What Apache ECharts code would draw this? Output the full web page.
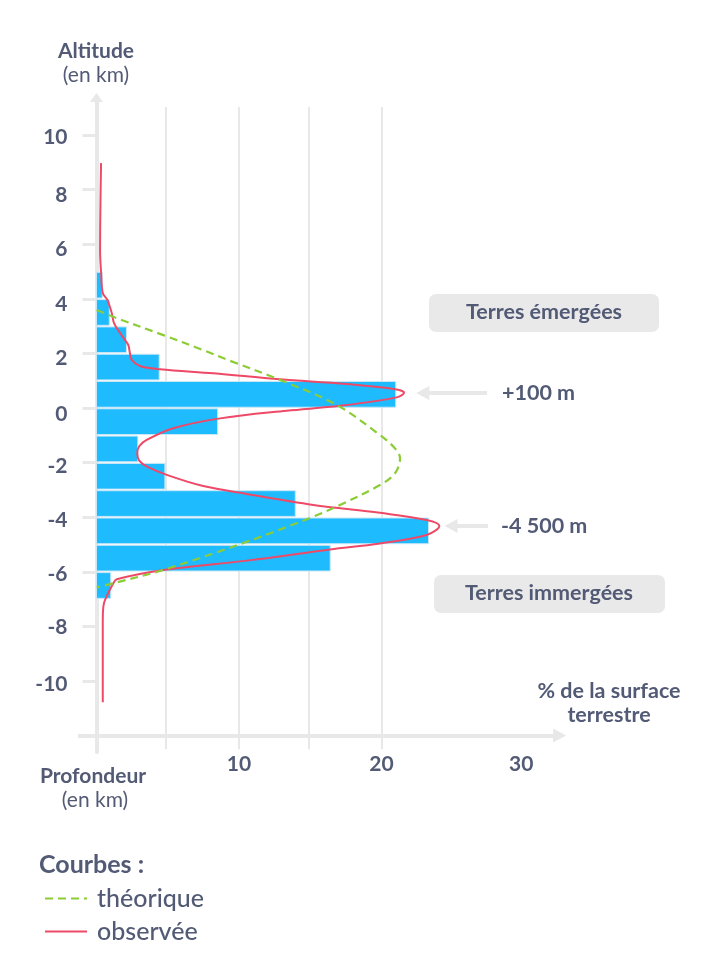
<!DOCTYPE html>
<html><head><meta charset="utf-8">
<script src="https://cdn.jsdelivr.net/npm/echarts@6/dist/echarts.min.js"></script>
<style>html,body{margin:0;padding:0;background:#fff}#c{width:709px;height:963px}</style>
</head><body><div id="c"></div>
<script>
const altitudeTicks = [-10,-8,-6,-4,-2,0,2,4,6,8,10];
const percentLabels = [10,20,29.8];
const gridPercents = [4.88,10,14.91,20];
// histogram: [percent, top km, bottom km]
const histogram = [
 [0.4,5,4],[0.9,4,3],[2.1,3,2],[4.4,2,1],[21,1,0],[8.5,0,-1],
 [2.9,-1,-2],[4.8,-2,-3],[13.95,-3,-4],[23.3,-4,-5],[16.4,-5,-6],[1.0,-6,-7]
];
const observed = [
 [.32,8.97],[.28,7.62],[.25,5.79],[.32,4.98],[.44,4.21],[.76,3.96],[1.07,3.48],[1.23,3.11],[1.65,2.75],
 [2.0,2.49],[2.23,2.31],[2.35,2.0],[2.47,1.76],[3.05,1.54],[4.46,1.42],[8.2,1.27],[12.88,1.05],[17.56,.88],
 [21.07,.68],[21.58,.56],[21.07,.39],[17.09,.08],[13.35,-.10],[8.67,-.38],[5.39,-.74],[3.52,-1.17],[3.0,-1.40],[2.86,-1.66],
 [3.0,-1.93],[3.55,-2.15],[4.93,-2.45],[7.49,-2.86],[10.54,-3.15],[15.21,-3.55],[19.89,-3.84],[23.17,-4.10],[24.06,-4.32],
 [23.17,-4.65],[19.89,-4.96],[16.39,-5.18],[10.54,-5.59],[4.69,-5.93],[1.42,-6.27],[1.18,-6.42],[.6,-7.03],
 [.48,-7.28],[.44,-7.77],[.44,-10.78]
];
const theoretical = [
 [.01,3.59],[1.18,3.34],[4.69,2.67],[7.49,2.12],[9.37,1.73],[12.88,1.03],[16.86,.11],[19.89,-.99],[20.95,-1.48],
 [21.30,-1.84],[20.95,-2.39],[19.89,-2.82],[17.09,-3.55],[15.21,-3.98],[10.54,-4.90],[4.69,-5.93],[1.18,-6.42],[.01,-6.57]
];
const INK = '#525a75', AXIS = '#e8e8e8', FONT = 'Lato, "Noto Sans", sans-serif';
const tickLabelDrop = {'10':2,'8':6,'6':5,'4':5,'2':5,'0':6,'-2':4,'-4':3,'-6':2,'-8':1,'-10':3};
const tickRich = {};
[1,2,3,4,5,6].forEach(n=>{tickRich['d'+n]={padding:[2*n,0,0,0],color:INK,fontFamily:FONT,fontSize:21,fontWeight:700};});
function txt(x,y,t,size,weight,align){
  return {type:'text',x,y,silent:true,z:20,style:{text:t,fill:INK,font:`${weight} ${size}px ${FONT}`,align:align||'center',verticalAlign:'middle'}};
}
function box(x,y,w,h){
  return {type:'rect',shape:{x,y,width:w,height:h,r:7},style:{fill:'#e9e9e9'},z:10,silent:true};
}
const chart = echarts.init(document.getElementById('c'),null,{renderer:'canvas'});
const lineStyleAxis = {color:AXIS,width:4,type:'solid'};
chart.setOption({
  animation:false,
  backgroundColor:'#fff',
  grid:{left:76.55,right:709-566.75,top:97.6,bottom:963-752,containLabel:false},
  xAxis:{type:'value',min:-1.4,max:33,
    axisLine:{show:false,onZero:false},axisTick:{show:false},splitLine:{show:false},
    axisLabel:{customValues:percentLabels,margin:2,color:INK,fontFamily:FONT,fontSize:21,fontWeight:700,hideOverlap:false,
      formatter:v=>String(Math.round(v))}},
  yAxis:{type:'value',min:-12.6,max:11.37,
    axisLine:{show:true,onZero:true,symbol:['none','triangle'],symbolSize:[13,9],lineStyle:{color:AXIS,width:4}},
    axisTick:{show:true,customValues:altitudeTicks,length:14,lineStyle:{color:AXIS,width:3}},
    splitLine:{show:false},
    axisLabel:{customValues:altitudeTicks,margin:9,color:INK,fontFamily:FONT,fontSize:21,fontWeight:700,
      formatter:v=>`{d${tickLabelDrop[String(v)]}|${v}}`,rich:tickRich}},
  legend:{show:true,data:['théorique','observée'],orient:'vertical',left:44,top:886,padding:0,itemWidth:42,itemHeight:14,itemGap:8,
    itemStyle:{opacity:0},textStyle:{color:INK,fontFamily:FONT,fontSize:25,fontWeight:500,padding:[0,0,0,5]},selectedMode:false},
  series:[
    {type:'line',name:'axes',data:[],z:1,silent:true,
     markLine:{z:1,silent:true,animation:false,symbol:'none',label:{show:false},emphasis:{disabled:true},
       lineStyle:{color:AXIS,width:2,type:'solid'},
       data:gridPercents.map(p=>[{coord:[p,-12.5]},{coord:[p,11.03]}])}},
    {type:'line',name:'arrows',data:[],z:1,silent:true,
     markLine:{z:1,silent:true,animation:false,symbol:['none','triangle'],symbolSize:[14,13],label:{show:false},emphasis:{disabled:true},
       lineStyle:lineStyleAxis,
       data:[[{coord:[-1.3,-12]},{coord:[32.5,-12]}],
             [{coord:[27.4,.55]},{coord:[22.9,.55]}],
             [{coord:[27.47,-4.32]},{coord:[24.88,-4.32]}]]}},
    {type:'custom',name:'surface',z:3,silent:true,data:histogram,
     encode:{x:0,y:[1,2]},
     renderItem(params,api){
       const a=api.coord([0,api.value(1)]), b=api.coord([api.value(0),api.value(2)]);
       return {type:'rect',shape:{x:a[0],y:a[1]+.8,width:b[0]-a[0],height:b[1]-a[1]-1.6},
         style:{fill:'#1fbbff',stroke:'#c9e6f5',lineWidth:1}};
     }},
    {type:'line',name:'observée',data:observed,smooth:.35,showSymbol:false,symbol:'none',z:5,silent:true,
     itemStyle:{color:'#ee4a67'},lineStyle:{color:'#ee4a67',width:2}},
    {type:'line',name:'théorique',data:theoretical,smooth:.35,showSymbol:false,symbol:'none',z:6,silent:true,
     itemStyle:{color:'#8ccc35'},lineStyle:{color:'#8ccc35',width:2.2,type:[8,5]}}
  ],
  graphic:[
    box(429,294,230,38), box(434,575,231,38),
    txt(544,312,'Terres émergées',21.5,700), txt(549,593,'Terres immergées',21.5,700),
    txt(502,393,'+100 m',21.5,700,'left'), txt(501,526,'-4 500 m',21.5,700,'left'),
    txt(96,51,'Altitude',21,700), txt(96,75,'(en km)',21,400),
    txt(93,776,'Profondeur',21,700), txt(95,800,'(en km)',21,400),
    txt(609,691,'% de la surface',21.5,700), txt(609,715,'terrestre',21.5,700),
    txt(39,865,'Courbes :',25,700,'left')
  ]
});
</script></body></html>
